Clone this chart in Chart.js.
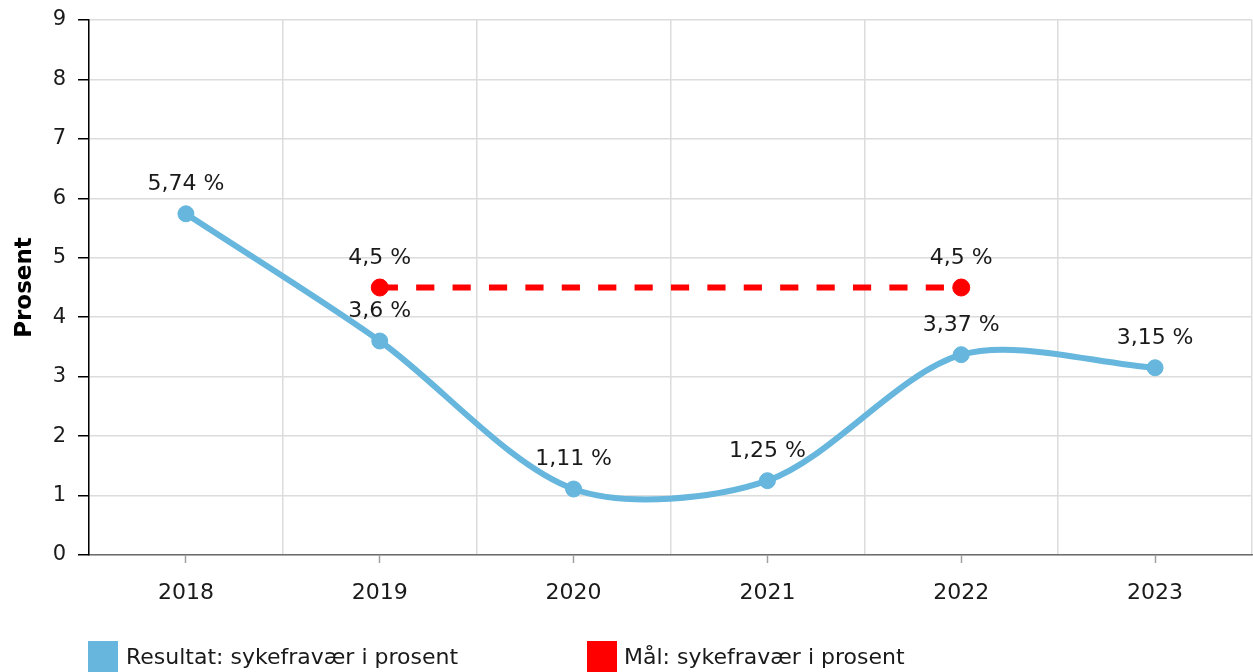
<!DOCTYPE html>
<html>
<head>
<meta charset="utf-8">
<script src="https://cdn.jsdelivr.net/npm/chart.js@4/dist/chart.umd.min.js"></script>
<style>
html,body{margin:0;padding:0;background:#fff;overflow:hidden}
#wrap{position:relative;width:1253px;height:672px}
#c{position:absolute;left:0;top:0}
.lg-box{position:absolute;width:30px;height:31px;top:641px}
.lg-txt{position:absolute;top:644px;font-family:"DejaVu Sans";font-size:22px;line-height:normal;color:#1a1a1a;white-space:nowrap}
</style>
</head>
<body>
<div id="wrap">
  <canvas id="c" width="1253" height="672"></canvas>
  <div id="legend"></div>
</div>
<script>
// ---- data ----
const categories = ['2018', '2019', '2020', '2021', '2022', '2023'];
const resultValues = [5.74, 3.6, 1.11, 1.25, 3.37, 3.15];
const targetValues = [null, 4.5, null, null, 4.5, null];
const seriesNames = ['Resultat: sykefravær i prosent', 'Mål: sykefravær i prosent'];
const yTickValues = [0, 1, 2, 3, 4, 5, 6, 7, 8, 9];
const yAxisTitle = 'Prosent';

// ---- styles ----
const blue = '#66b6dd';
const red = '#ff0000';
const FONT = 'DejaVu Sans';
const gridColor = '#dcdcdc';

const valueLabels = {
  id: 'valueLabels',
  afterDatasetsDraw(chart) {
    const ctx = chart.ctx;
    ctx.save();
    ctx.font = '22px "' + FONT + '"';
    ctx.fillStyle = '#1a1a1a';
    ctx.textAlign = 'center';
    ctx.textBaseline = 'middle';
    chart.data.datasets.forEach((ds, di) => {
      const meta = chart.getDatasetMeta(di);
      meta.data.forEach((pt, i) => {
        const v = ds.data[i];
        if (v === null || v === undefined) return;
        ctx.fillText(String(v).replace('.', ',') + ' %', pt.x, pt.y - 29.5);
      });
    });
    ctx.restore();
  }
};

const chart = new Chart(document.getElementById('c'), {
  type: 'line',
  data: {
    labels: categories,
    datasets: [
      {
        label: seriesNames[0],
        data: resultValues,
        xAxisID: 'x', yAxisID: 'y',
        borderColor: blue,
        backgroundColor: blue,
        borderWidth: 6,
        tension: 0.3,
        pointRadius: 8,
        pointBorderWidth: 1,
        pointBorderColor: blue,
        pointBackgroundColor: blue,
        fill: false,
        order: 2
      },
      {
        label: seriesNames[1],
        data: targetValues,
        xAxisID: 'x', yAxisID: 'y',
        borderColor: red,
        backgroundColor: red,
        borderWidth: 6,
        borderDash: [18.2, 18.2],
        spanGaps: true,
        tension: 0,
        pointRadius: 8.5,
        pointBorderWidth: 1,
        pointBorderColor: red,
        pointBackgroundColor: red,
        fill: false,
        order: 1
      }
    ]
  },
  options: {
    responsive: false,
    animation: false,
    devicePixelRatio: 1,
    layout: { autoPadding: false, padding: { top: 20, right: 1, left: 0, bottom: 0 } },
    plugins: {
      legend: { display: false },
      tooltip: { enabled: false }
    },
    scales: {
      x: {
        type: 'category',
        position: 'bottom',
        offset: true,
        grid: {
          display: true,
          drawOnChartArea: false,
          offset: false,
          drawTicks: true,
          tickLength: 8,
          tickColor: '#a0a0a0',
          tickWidth: 1.5
        },
        border: { display: true, color: '#6d6d6d', width: 1.5 },
        ticks: {
          color: '#1a1a1a',
          font: { family: FONT, size: 22 },
          padding: 17,
          maxRotation: 0,
          autoSkip: false
        },
        afterFit(s) { s.height = 117; s.paddingLeft = 0; s.paddingRight = 0; }
      },
      xg: {
        type: 'category',
        position: 'top',
        offset: true,
        grid: {
          offset: true,
          drawOnChartArea: true,
          drawTicks: false,
          color: gridColor,
          lineWidth: 1.5
        },
        border: { display: false },
        ticks: { display: false },
        afterFit(s) { s.height = 0; s.paddingLeft = 0; s.paddingRight = 0; }
      },
      y: {
        min: 0,
        max: 9,
        afterBuildTicks(s) { s.ticks = yTickValues.map(v => ({ value: v })); },
        ticks: {
          stepSize: 1,
          color: '#1a1a1a',
          font: { family: FONT, size: 21 },
          padding: 12
        },
        grid: {
          color: gridColor,
          lineWidth: 1.5,
          tickLength: 11,
          tickColor: '#000',
          tickWidth: 1.5
        },
        border: { display: true, color: '#000', width: 1.5 },
        title: {
          display: true,
          text: yAxisTitle,
          color: '#000',
          font: { family: FONT, size: 23, weight: 'bold' },
          padding: { top: 11, bottom: 0 }
        },
        afterFit(s) { s.width = 89; s.paddingTop = 0; s.paddingBottom = 0; }
      }
    }
  },
  plugins: [valueLabels]
});

// ---- legend (HTML) ----
const legend = document.getElementById('legend');
const legendPos = [{ box: 88, text: 126 }, { box: 587, text: 624 }];
chart.data.datasets.forEach((ds, i) => {
  const b = document.createElement('div');
  b.className = 'lg-box';
  b.style.left = legendPos[i].box + 'px';
  b.style.background = ds.borderColor;
  legend.appendChild(b);
  const t = document.createElement('div');
  t.className = 'lg-txt';
  t.style.left = legendPos[i].text + 'px';
  t.textContent = ds.label;
  legend.appendChild(t);
});
</script>
</body>
</html>
